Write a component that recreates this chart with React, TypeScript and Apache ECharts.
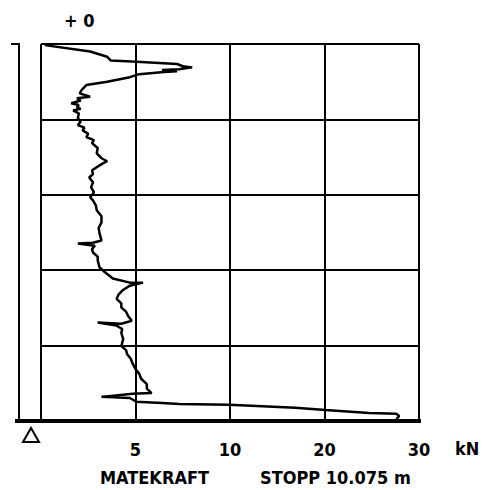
import React, { useEffect, useRef } from "react";
import * as echarts from "echarts";

// Force scale breakpoints (kN) and tick labels
const forceBreaks = [0, 5, 10, 20, 30];
const tickLabels = ["", "5", "10", "20", "30"];

// Depth (m) and driving force (kN)
const depth = [
  0.03, 0.2, 0.34, 0.44, 0.47, 0.53, 0.59, 0.62, 0.67, 0.69, 0.72, 0.74, 0.8, 0.88, 1.0,
  1.09, 1.22, 1.31, 1.4, 1.44, 1.5, 1.57, 1.62, 1.68, 1.72, 1.76, 1.84, 1.97, 2.06, 2.15,
  2.22, 2.29, 2.38, 2.47, 2.55, 2.63, 2.76, 2.9, 3.03, 3.11, 3.16, 3.22, 3.35, 3.45,
  3.54, 3.67, 3.8, 3.93, 4.07, 4.15, 4.28, 4.41, 4.57, 4.73, 4.88, 5.03, 5.21, 5.27, 5.29,
  5.35, 5.44, 5.53, 5.64, 5.74, 5.93, 6.06, 6.22, 6.33, 6.33, 6.41, 6.54, 6.65, 6.76, 6.88,
  6.99, 7.1, 7.21, 7.34, 7.42, 7.39, 7.47, 7.56, 7.66, 7.83, 8.01, 8.12, 8.22, 8.35, 8.48,
  8.62, 8.75, 8.88, 9.02, 9.14, 9.26, 9.28, 9.36, 9.39, 9.49, 9.52, 9.55, 9.57, 9.65, 9.71,
  9.79, 9.81, 9.87, 9.95,
];
const force = [
  0.2, 2.6, 3.5, 3.7, 5.05, 7.2, 7.5, 8.0, 7.3, 6.4, 7.2, 6.5, 5.2, 4.7, 3.5,
  2.4, 2.15, 2.05, 2.6, 1.9, 2.1, 1.6, 2.0, 1.9, 2.1, 1.7, 2.0, 1.95, 2.1, 1.95,
  2.3, 2.2, 2.5, 2.4, 2.8, 2.7, 3.0, 2.95, 3.2, 3.5, 3.3, 3.1, 2.7, 2.75,
  2.55, 2.75, 2.65, 2.8, 2.6, 2.75, 2.9, 2.95, 3.2, 3.2, 3.05, 3.1, 3.2, 2.75, 1.95,
  2.85, 2.7, 2.75, 3.0, 3.0, 3.1, 3.4, 3.8, 4.7, 5.4, 4.7, 4.3, 4.1, 4.0, 4.25,
  4.25, 4.5, 4.6, 4.8, 4.25, 3.0, 4.0, 4.3, 4.25, 4.35, 4.25, 4.5, 4.55, 4.75, 4.85,
  5.0, 5.2, 5.3, 5.6, 5.6, 5.85, 4.85, 3.2, 4.7, 5.05, 6.4, 7.3, 9.95, 16.9, 20.1,
  24.7, 27.6, 27.9, 27.6,
];

// piecewise-linear mapping of the kN scale onto equal grid divisions
function toAxis(v: number): number {
  for (let i = 0; i < forceBreaks.length - 1; i++) {
    const a = forceBreaks[i];
    const b = forceBreaks[i + 1];
    if (v <= b || i === forceBreaks.length - 2) return i + (v - a) / (b - a);
  }
  return 0;
}

const FONT = "'DejaVu Sans Condensed', 'Liberation Sans Narrow', 'DejaVu Sans', sans-serif";
const TXT = `bold 18px ${FONT}`;

export default function App() {
  const ref = useRef<HTMLDivElement>(null);
  useEffect(() => {
    if (!ref.current) return;
    const chart = echarts.init(ref.current, null, { renderer: "svg" });
    const data = depth.map((d, i) => [toAxis(force[i]), d]);
    chart.setOption({
      animation: false,
      backgroundColor: "#ffffff",
      grid: { left: 41, right: 66, top: 44, bottom: 69 },
      xAxis: {
        type: "value",
        min: 0,
        max: 4,
        interval: 1,
        axisLine: { show: false },
        axisTick: { show: false },
        splitLine: { show: true, lineStyle: { color: "#000", width: 2 } },
        axisLabel: {
          margin: 19,
          color: "#000",
          fontFamily: FONT,
          fontWeight: "bold",
          fontSize: 18,
          formatter: (v: number) => tickLabels[Math.round(v)] ?? "",
        },
      },
      yAxis: {
        type: "value",
        inverse: true,
        min: 0,
        max: 10,
        interval: 2,
        axisLine: { show: false },
        axisTick: { show: false },
        axisLabel: { show: false },
        splitLine: { show: true, lineStyle: { color: "#000", width: 2 } },
      },
      series: [
        {
          type: "line",
          data,
          showSymbol: false,
          symbol: "none",
          lineStyle: { color: "#000", width: 2.5 },
          z: 5,
        },
      ],
      graphic: [
        { type: "line", shape: { x1: 15, y1: 421, x2: 421, y2: 421 }, style: { stroke: "#000", lineWidth: 4 } },
        { type: "line", shape: { x1: 19, y1: 44, x2: 19, y2: 421 }, style: { stroke: "#000", lineWidth: 2 } },
        { type: "line", shape: { x1: 11, y1: 44, x2: 20, y2: 44 }, style: { stroke: "#000", lineWidth: 2 } },
        {
          type: "polygon",
          shape: { points: [[31, 428], [23, 442], [39, 442]] },
          style: { fill: "none", stroke: "#000", lineWidth: 2 },
        },
        { type: "text", left: 64, top: 11, style: { text: "+ 0", fill: "#000", font: TXT } },
        { type: "text", left: 455, top: 439, style: { text: "kN", fill: "#000", font: TXT } },
        { type: "text", left: 100, top: 468, style: { text: "MATEKRAFT", fill: "#000", font: TXT } },
        { type: "text", left: 260, top: 468, style: { text: "STOPP 10.075 m", fill: "#000", font: TXT } },
      ],
    });
    return () => chart.dispose();
  }, []);
  return (
    <div
      ref={ref}
      style={{ position: "fixed", left: 0, top: 0, width: 485, height: 490 }}
    />
  );
}
